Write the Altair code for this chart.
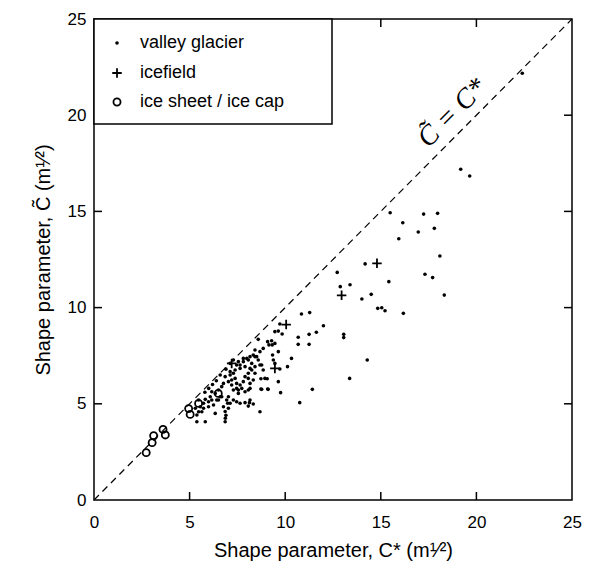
import altair as alt
import pandas as pd

# ---------------- data ----------------
valley_x = [22.4, 19.18, 19.65, 15.49, 17.24, 17.97, 16.15, 17.8, 16.96, 15.94, 18.09, 14.18, 15.42, 17.31,
            17.71, 18.32, 14.5, 14.01, 14.84, 15.05, 15.22, 16.18, 12.72, 12.88, 13.39,
            10.85, 11.28, 9.72, 12.0, 9.46, 9.64, 9.84, 11.63, 11.25, 10.68, 13.06, 13.06, 11.25, 10.68,
            8.59, 9.08, 9.29, 9.15, 9.32, 9.46, 9.64, 14.29, 10.33, 10.12, 9.72, 9.34, 9.38, 9.46, 13.37,
            9.64, 9.06, 8.73, 9.76, 9.08, 8.73, 11.42, 10.76, 8.68, 6.86, 5.82, 5.38, 8.85, 8.42,
            6.87, 6.9, 6.86, 6.34, 5.38, 5.64, 7.64, 7.9, 8.13, 8.33, 7.12, 7.29, 7.46, 6.77, 7.03, 6.42,
            6.6, 6.34, 6.08, 5.99, 5.73, 5.82, 6.16, 6.51, 6.68, 6.77, 7.03, 6.86, 7.12, 7.29, 7.38, 7.2,
            7.46, 7.55, 7.73, 7.9, 8.07, 8.16, 8.07, 8.33, 8.42, 8.16, 7.9, 7.64, 7.46, 7.12, 7.29, 7.55,
            7.81, 8.07, 8.25, 8.42, 8.59, 8.77, 8.85, 8.68, 8.94, 9.11, 8.77, 5.3, 5.56, 5.47, 5.99, 6.25,
            5.73, 7.2, 7.12, 7.38, 7.64, 7.81, 7.99, 8.16, 8.33, 8.51, 8.68, 8.42, 8.25, 8.07, 7.9, 7.81,
            7.64, 7.46, 7.29, 8.16, 7.55, 5.47, 6.16, 6.51, 6.68, 6.94, 7.03, 6.99, 8.16, 8.07,
            5.8, 6.0, 6.2, 6.4, 6.6, 6.9]
valley_y = [22.18, 17.19, 16.84, 14.93, 14.86, 14.9, 14.41, 14.12, 13.93, 13.58, 12.68, 12.27, 11.35, 11.73,
            11.56, 10.65, 10.69, 10.45, 9.96, 9.99, 9.84, 9.7, 11.83, 11.09, 11.19,
            9.67, 9.74, 9.15, 9.06, 8.75, 8.78, 8.63, 8.72, 8.61, 8.46, 8.61, 8.44, 8.09, 8.09,
            8.35, 8.23, 8.28, 8.06, 8.06, 8.14, 7.71, 7.28, 7.36, 6.93, 6.81, 7.54, 7.28, 7.1, 6.32,
            6.15, 6.3, 6.3, 5.58, 5.77, 5.77, 5.75, 5.06, 4.59, 4.07, 4.07, 4.07, 7.88, 7.8,
            4.25, 4.4, 4.6, 4.5, 4.42, 4.59, 5.03, 5.06, 5.06, 4.99, 5.03, 5.2, 5.11, 4.85, 4.77, 5.2,
            5.37, 5.54, 5.37, 5.11, 5.03, 5.23, 5.63, 5.72, 5.89, 6.06, 6.15, 6.41, 6.5, 6.59, 6.32, 5.98,
            6.06, 5.72, 5.8, 5.63, 5.72, 6.06, 6.32, 6.24, 6.59, 6.84, 6.93, 6.84, 7.02, 7.1, 7.28, 7.19,
            7.36, 7.28, 7.1, 7.45, 7.28, 7.02, 6.76, 7.71, 6.32, 5.75, 5.75, 4.77, 4.85, 4.59, 4.85, 4.94,
            4.77, 6.24, 6.67, 6.76, 7.02, 7.19, 7.36, 7.45, 7.54, 7.45, 7.02, 6.93, 6.76, 6.59, 6.41, 6.15,
            5.98, 5.8, 5.72, 5.8, 5.54, 5.2, 5.2, 5.2, 5.37, 5.2, 5.37, 5.03, 5.2, 4.88,
            5.6, 5.8, 6.0, 6.2, 6.5, 6.8]

icefield_x = [7.2, 10.05, 9.46, 12.95, 14.8]
icefield_y = [7.1, 9.12, 6.84, 10.64, 12.3]

sheet_x = [2.73, 3.04, 3.12, 3.61, 3.73, 4.95, 5.03, 5.47, 6.5]
sheet_y = [2.46, 2.98, 3.34, 3.67, 3.38, 4.75, 4.45, 5.02, 5.54]

tick_values = [0, 5, 10, 15, 20, 25]
inner_ticks = [5, 10, 15, 20]
legend_labels = ["valley glacier", "icefield", "ice sheet / ice cap"]
line_ends = [0, 25]

W, H = 478, 481
FONT = "Liberation Sans"
PLUS = "M-1,0L1,0M0,-1L0,1"

valley = pd.DataFrame({"x": valley_x, "y": valley_y})
ice = pd.DataFrame({"x": icefield_x, "y": icefield_y})
sheet = pd.DataFrame({"x": sheet_x, "y": sheet_y})
diag = pd.DataFrame({"x": line_ends, "y": line_ends})
ticks = pd.DataFrame({"v": inner_ticks})

xscale = alt.Scale(domain=[0, 25], nice=False, zero=True)
yscale = alt.Scale(domain=[0, 25], nice=False, zero=True)

xaxis = alt.Axis(values=tick_values, grid=False, ticks=False, tickSize=0, domain=False,
                 labelFlush=False, labelPadding=14, labelFontSize=17, labelFont=FONT,
                 title="Shape parameter,  C* (m¹⁄²)", titleFontSize=20, titleFont=FONT,
                 titleFontWeight="normal", titlePadding=10, labelColor="black", titleColor="black")
yaxis = alt.Axis(values=tick_values, grid=False, ticks=False, tickSize=0, domain=False,
                 labelFlush=False, labelPadding=8, labelFontSize=17, labelFont=FONT,
                 title="Shape parameter,  C̃ (m¹⁄²)", titleFontSize=20, titleFont=FONT,
                 titleFontWeight="normal", titlePadding=14, labelColor="black", titleColor="black")

line = alt.Chart(diag).mark_line(color="black", strokeDash=[7, 5], strokeWidth=1.2).encode(
    x=alt.X("x:Q", scale=xscale, axis=xaxis),
    y=alt.Y("y:Q", scale=yscale, axis=yaxis),
)

pts_valley = alt.Chart(valley).mark_point(filled=True, shape="circle", size=13, color="black", opacity=1).encode(
    x=alt.X("x:Q", scale=xscale), y=alt.Y("y:Q", scale=yscale))

pts_ice = alt.Chart(ice).mark_point(shape=PLUS, size=90, color="black", strokeWidth=1.8, opacity=1).encode(
    x=alt.X("x:Q", scale=xscale), y=alt.Y("y:Q", scale=yscale))

pts_sheet = alt.Chart(sheet).mark_point(shape="circle", size=50, color="black", strokeWidth=1.8,
                                        filled=False, opacity=1).encode(
    x=alt.X("x:Q", scale=xscale), y=alt.Y("y:Q", scale=yscale))

tick_b = alt.Chart(ticks).mark_rule(color="black", strokeWidth=1.5).encode(
    x=alt.X("v:Q", scale=xscale), y=alt.value(H), y2=alt.value(H - 8))
tick_t = alt.Chart(ticks).mark_rule(color="black", strokeWidth=1.5).encode(
    x=alt.X("v:Q", scale=xscale), y=alt.value(0), y2=alt.value(8))
tick_l = alt.Chart(ticks).mark_rule(color="black", strokeWidth=1.5).encode(
    y=alt.Y("v:Q", scale=yscale), x=alt.value(0), x2=alt.value(8))
tick_r = alt.Chart(ticks).mark_rule(color="black", strokeWidth=1.5).encode(
    y=alt.Y("v:Q", scale=yscale), x=alt.value(W), x2=alt.value(W - 8))

one = pd.DataFrame({"k": [0]})
leg_box = alt.Chart(one).mark_rect(fill="white", stroke="black", strokeWidth=1.5).encode(
    x=alt.value(0), x2=alt.value(238), y=alt.value(0), y2=alt.value(105))

leg_rows = [24, 54, 83]
leg_sym = [
    alt.Chart(one).mark_point(filled=True, shape="circle", size=13, color="black", opacity=1).encode(
        x=alt.value(23), y=alt.value(leg_rows[0])),
    alt.Chart(one).mark_point(shape=PLUS, size=90, color="black", strokeWidth=1.8, opacity=1).encode(
        x=alt.value(23), y=alt.value(leg_rows[1])),
    alt.Chart(one).mark_point(shape="circle", size=50, color="black", strokeWidth=1.8, filled=False,
                              opacity=1).encode(x=alt.value(23), y=alt.value(leg_rows[2])),
]
leg_txt = [
    alt.Chart(one).mark_text(text=lab, align="left", baseline="middle", font=FONT, fontSize=18,
                             color="black").encode(x=alt.value(46), y=alt.value(r))
    for lab, r in zip(legend_labels, leg_rows)
]

label_pos = pd.DataFrame({"x": [18.75], "y": [20.1]})
diag_label = alt.Chart(label_pos).mark_text(text="C̃ = C*", angle=315, font="Liberation Serif",
                                             fontStyle="italic", fontSize=28, color="black",
                                             align="center", baseline="middle").encode(
    x=alt.X("x:Q", scale=xscale), y=alt.Y("y:Q", scale=yscale))

chart = alt.layer(
    line, pts_valley, pts_ice, pts_sheet, tick_b, tick_t, tick_l, tick_r,
    leg_box, *leg_sym, *leg_txt, diag_label
).properties(
    width=W, height=H,
    autosize=alt.AutoSizeParams(type="none"),
    padding={"left": 86, "top": 11, "right": 10, "bottom": 64},
).configure_view(stroke="black", strokeWidth=1.5)

chart.save("out.html", embed_options={"renderer": "svg", "actions": False})
